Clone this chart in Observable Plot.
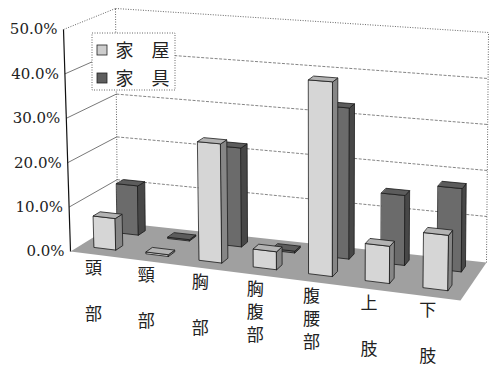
<!DOCTYPE html>
<html><head><meta charset="utf-8">
<script src="https://cdn.jsdelivr.net/npm/d3@7"></script>
<script src="https://cdn.jsdelivr.net/npm/@observablehq/plot@0.6"></script>
<style>body{margin:0;background:#fff}</style>
</head><body><div id="chart"></div>
<script>
// ---- data ----
const categories = ["頭部","頸部","胸部","胸腹部","腹腰部","上肢","下肢"];
const series = ["家屋","家具"];
const house = [0.071,0.004,0.262,0.039,0.418,0.079,0.116];
const furniture = [0.113,0.003,0.222,0.004,0.332,0.152,0.179];
const ticks = [0,0.1,0.2,0.3,0.4,0.5];

// ---- 3D layout (pseudo perspective) ----
const FL=[70,251], FR=[460,300], BL=[117,222], BR=[486,262];
const VFL=[-14,-444], VFR=[8,-484], VBL=[-4,-428], VBR=[4,-460];
const persp=0.077;
const tu = u => u/(1+persp-persp*u);
function bil(A,B,C,D,t,w){return [0,1].map(i=>(1-t)*(1-w)*A[i]+t*(1-w)*B[i]+(1-t)*w*C[i]+t*w*D[i]);}
function P(u,w,v){const t=tu(u);const f=bil(FL,FR,BL,BR,t,w),g=bil(VFL,VFR,VBL,VBR,t,w);return {x:f[0]+v*g[0],y:f[1]+v*g[1]};}
const n=categories.length;
const rowW=[0.2,0.7], depth=0.15, b0=0.28, b1=0.70;

function faces(values, s){
  const front=[], side=[], top=[];
  values.forEach((v,k)=>{
    const u0=(k+b0)/n,u1=(k+b1)/n,w0=rowW[s],w1=w0+depth;
    const add=(arr,pts)=>pts.forEach(p=>arr.push({id:s+"-"+k,...P(...p)}));
    add(front,[[u0,w0,0],[u1,w0,0],[u1,w0,v],[u0,w0,v]]);
    add(side,[[u1,w0,0],[u1,w1,0],[u1,w1,v],[u1,w0,v]]);
    add(top,[[u0,w0,v],[u1,w0,v],[u1,w1,v],[u0,w1,v]]);
  });
  return {front,side,top};
}
const dark=faces(furniture,1), light=faces(house,0);
const floor=[[0,0],[1,0],[1,1],[0,1]].map(([u,w])=>({id:"f",...P(u,w,0)}));
const poly=(data,fill,stroke="#1a1a1a",sw=0.8)=>Plot.line(data,{x:"x",y:"y",z:"id",fill,stroke,strokeWidth:sw,curve:"linear-closed"});

const legendFill=["#cdcdcd","#5e5e5e"];
const chart = Plot.plot({
  width:489,height:369,margin:0,
  x:{domain:[0,489],range:[0,489],axis:null},
  y:{domain:[0,369],range:[0,369],axis:null},
  style:{background:"#fff"},
  marks:[
    poly(floor,"#a0a0a0","none"),
    // left wall gridlines
    Plot.link(ticks.slice(1,5),{x1:v=>P(0,0,v).x,y1:v=>P(0,0,v).y,x2:v=>P(0,1,v).x,y2:v=>P(0,1,v).y,stroke:"#555",strokeWidth:0.8}),
    // back wall gridlines
    Plot.link(ticks.slice(1,5),{x1:v=>P(0,1,v).x,y1:v=>P(0,1,v).y,x2:v=>P(1,1,v).x,y2:v=>P(1,1,v).y,stroke:"#666",strokeWidth:0.8,strokeDasharray:"3,1.5"}),
    // wall borders (dotted)
    Plot.link([0.5],{x1:v=>P(0,0,v).x,y1:v=>P(0,0,v).y,x2:v=>P(0,1,v).x,y2:v=>P(0,1,v).y,stroke:"#555",strokeWidth:0.9,strokeDasharray:"1,1.5"}),
    Plot.link([0.5],{x1:v=>P(0,1,v).x,y1:v=>P(0,1,v).y,x2:v=>P(1,1,v).x,y2:v=>P(1,1,v).y,stroke:"#555",strokeWidth:0.9,strokeDasharray:"1,1.5"}),
    Plot.link([0,1],{x1:u=>P(u,1,0).x,y1:u=>P(u,1,0).y,x2:u=>P(u,1,0.5).x,y2:u=>P(u,1,0.5).y,stroke:"#555",strokeWidth:0.9,strokeDasharray:"1,1.5"}),
    // front value axis
    Plot.link([0],{x1:()=>P(0,0,0).x,y1:()=>P(0,0,0).y,x2:()=>P(0,0,0.5).x,y2:()=>P(0,0,0.5).y,stroke:"#111",strokeWidth:1.2}),
    // dark (back row) bars
    poly(dark.front,"#6b6b6b"),
    poly(dark.side,"#474747"),
    poly(dark.top,"#5c5c5c"),
    // light (front row) bars
    poly(light.front,"#d6d6d6"),
    poly(light.side,"#868686"),
    poly(light.top,"#b3b3b3"),
    // tick labels
    Plot.text(ticks,{x:v=>P(0,0,v).x-6,y:v=>P(0,0,v).y,text:d3.format(".1%"),textAnchor:"end",fontFamily:"DejaVu Serif",fontSize:15,fill:"#222"}),
    // category labels
    Plot.text(categories,{x:(d,i)=>P((i+0.5)/n,0,0).x-3,y:(d,i)=>P((i+0.5)/n,0,0).y+3,
      text:d=>d.length===2?d[0]+"\n\n"+d[1]:d.split("").join("\n"),
      lineAnchor:"top",lineHeight:1.36,fontSize:17,fontFamily:"Noto Sans CJK JP",fill:"#222"}),
    // legend
    Plot.rect([0],{x1:()=>92,x2:()=>175,y1:()=>33,y2:()=>90,fill:"#fff",stroke:"#555",strokeWidth:0.9,strokeDasharray:"1,1.5"}),
    Plot.rect(series,{x1:()=>97,x2:()=>107,y1:(d,i)=>45+i*28,y2:(d,i)=>55+i*28,fill:(d,i)=>legendFill[i],stroke:"#222",strokeWidth:0.8}),
    Plot.text(series,{x:()=>115,y:(d,i)=>51+i*28,text:d=>d[0]+"\u3000"+d[1],textAnchor:"start",fontSize:18,fontFamily:"Noto Sans CJK JP",fill:"#222"})
  ]
});
document.getElementById("chart").appendChild(chart);
</script></body></html>
